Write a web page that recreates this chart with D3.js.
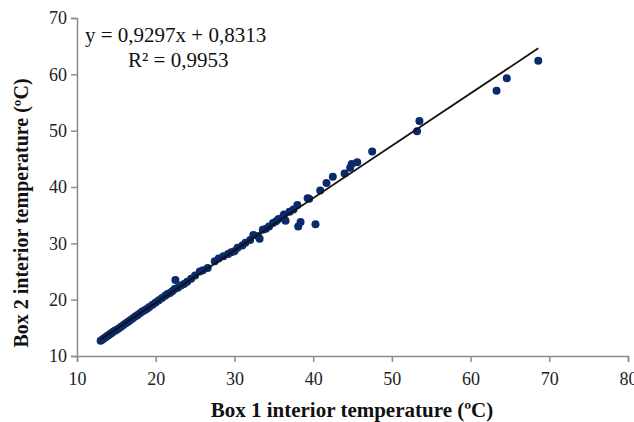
<!DOCTYPE html>
<html>
<head>
<meta charset="utf-8">
<script src="https://cdn.jsdelivr.net/npm/d3@7/dist/d3.min.js"></script>
<style>
body{margin:0;background:#fff;}
text{font-family:"Liberation Serif","Times New Roman",serif;}
</style>
</head>
<body>
<script>
// box 1 vs box 2 interior temperatures (oC)
var box1 = [13.0,13.2,13.4,13.6,13.8,14.0,14.2,14.4,14.6,14.8,15.0,15.3,15.6,15.9,16.2,16.5,16.8,17.1,17.4,17.7,18.0,18.3,18.6,18.9,19.2,19.6,20.0,20.4,20.8,21.2,21.5,21.8,22.1,22.5,22.4,22.8,23.2,23.6,24.0,24.5,25.0,25.6,26.0,26.6,27.5,28.0,28.6,29.2,29.6,30.0,30.4,31.0,31.4,32.0,32.4,33.2,33.0,33.6,34.0,34.4,34.9,35.3,35.6,36.2,36.5,36.3,37.0,37.5,38.0,38.1,38.4,39.3,39.5,40.3,40.9,41.7,42.5,44.0,44.7,44.9,45.6,47.5,53.2,53.5,63.3,64.6,68.6];
var box2 = [12.7,12.9,13.1,13.3,13.5,13.7,13.9,14.1,14.3,14.5,14.6,14.9,15.2,15.5,15.8,16.1,16.4,16.7,17.0,17.3,17.6,17.9,18.1,18.4,18.7,19.1,19.5,19.9,20.3,20.7,21.0,21.2,21.5,23.5,21.9,22.1,22.5,22.8,23.2,23.7,24.3,25.0,25.2,25.6,26.8,27.3,27.7,28.1,28.4,28.6,29.2,29.6,30.1,30.6,31.5,30.8,31.3,32.4,32.6,33.0,33.6,33.9,34.3,34.8,34.0,35.1,35.6,36.0,36.8,33.0,33.8,38.0,37.9,33.4,39.4,40.7,41.8,42.4,43.4,44.1,44.4,46.3,49.9,51.7,57.1,59.3,62.4];
var xTicks = [10,20,30,40,50,60,70,80];
var yTicks = [10,20,30,40,50,60,70];
var slope = 0.9297, intercept = 0.8313;
var eqText = 'y = 0,9297x + 0,8313', r2Text = 'R² = 0,9953';

var width = 634, height = 422, margin = {left:77,top:18,right:6,bottom:66};
var g_width = width - margin.left - margin.right, g_height = height - margin.top - margin.bottom;
var svg = d3.select('body').append('svg').attr('width',width).attr('height',height);
var g = svg.append('g').attr('transform','translate('+margin.left+','+margin.top+')');

var scale_x = d3.scaleLinear().domain([10,80]).range([0,g_width]);
var scale_y = d3.scaleLinear().domain([10,70]).range([g_height,0]);

var x_axis = d3.axisBottom(scale_x).tickValues(xTicks).tickSize(6).tickPadding(4);
var y_axis = d3.axisLeft(scale_y).tickValues(yTicks).tickSize(6).tickPadding(4);
var gx = g.append('g').attr('transform','translate(0,'+g_height+')').call(x_axis);
var gy = g.append('g').call(y_axis);
[gx,gy].forEach(function(a){
  a.select('.domain').attr('stroke','#8c8c8c').attr('stroke-width',1.5);
  a.selectAll('.tick line').attr('stroke','#8c8c8c').attr('stroke-width',1.5);
  a.selectAll('.tick text').attr('font-size',18).attr('fill','#222');
});
gx.selectAll('.tick text').attr('dy','1.05em');

// points
g.selectAll('circle').data(box1).enter().append('circle')
  .attr('cx',function(d){return scale_x(d);})
  .attr('cy',function(d,i){return scale_y(box2[i]);})
  .attr('r',4)
  .attr('fill','#0b2a6b');

// trend line
var xmin = d3.min(box1), xmax = d3.max(box1);
var line_generator = d3.line().x(function(d){return scale_x(d);}).y(function(d){return scale_y(slope*d+intercept);});
g.append('path').attr('d',line_generator([xmin,xmax])).attr('stroke','#111').attr('stroke-width',1.8).attr('fill','none');

// equation
svg.append('text').attr('x',85).attr('y',42).attr('font-size',21).attr('fill','#111').text(eqText);
svg.append('text').attr('x',128).attr('y',67).attr('font-size',21).attr('fill','#111').text(r2Text);

// axis titles
svg.append('text').attr('x',352).attr('y',417).attr('text-anchor','middle').attr('font-size',21).attr('font-weight','bold').attr('fill','#111').text('Box 1 interior temperature (ºC)');
svg.append('text').attr('transform','translate(28,213) rotate(-90)').attr('text-anchor','middle').attr('font-size',20).attr('font-weight','bold').attr('fill','#111').text('Box 2 interior temperature (ºC)');
</script>
</body>
</html>
